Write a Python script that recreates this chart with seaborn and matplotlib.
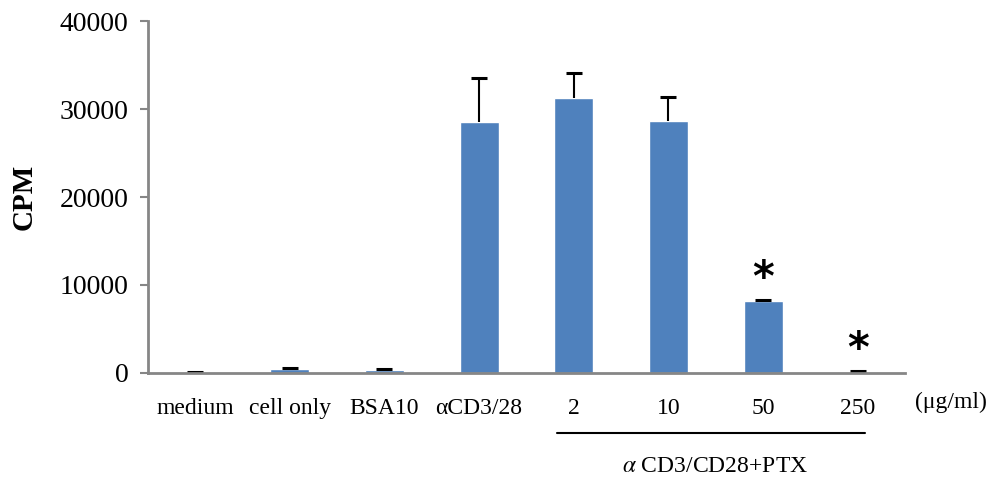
import matplotlib
matplotlib.use("Agg")
import matplotlib.pyplot as plt
import seaborn as sns
import numpy as np
import pandas as pd

categories = ["medium", "cell only", "BSA10", "\u03b1CD3/28", "2", "10", "50", "250"]
cpm = [60, 420, 300, 28500, 31300, 28600, 8150, 60]
cpm_err = [40, 180, 130, 5000, 2800, 2750, 200, 120]
significant = [False, False, False, False, False, False, True, True]
group_label = "CD3/CD28+PTX"
unit_label = "(\u03bcg/ml)"

sns.set_theme(style="white")
plt.rcParams["font.family"] = ["Liberation Serif", "DejaVu Serif"]
plt.rcParams["mathtext.fontset"] = "stix"
plt.rcParams["text.color"] = "black"
plt.rcParams["axes.labelcolor"] = "black"
plt.rcParams["xtick.labelcolor"] = "black"
plt.rcParams["ytick.labelcolor"] = "black"

df = pd.DataFrame({"group": categories, "CPM": cpm})

fig = plt.figure(figsize=(9.98, 4.8), dpi=100)
ax = fig.add_axes([0.148, 0.223, 0.759, 0.733])

sns.barplot(data=df, x="group", y="CPM", order=categories, color="#4F81BD",
            saturation=1, width=0.41, ax=ax, errorbar=None)

xpos = np.arange(len(categories))
eb = ax.errorbar(xpos, cpm, yerr=[np.zeros(len(cpm)), cpm_err], fmt="none",
                 ecolor="black", elinewidth=1.5, capsize=6, capthick=2.2)
# hide the lower caps (only upward error bars)
eb[1][0].set_visible(False)

for x, v, e, s in zip(xpos, cpm, cpm_err, significant):
    if s:
        ax.annotate("*", xy=(x, v + e), xytext=(0, 0), textcoords="offset points",
                    ha="center", va="bottom", fontsize=30, color="black",
                    fontweight="bold", family=["DejaVu Sans"])

ax.set_ylim(0, 40000)
ax.set_xlim(-0.5, len(categories) - 0.5)
ax.set_yticks([0, 10000, 20000, 30000, 40000])
ax.set_yticklabels(["0", "10000", "20000", "30000", "40000"], fontsize=20)
ax.set_xticks(xpos)
ax.set_xticklabels(categories, fontsize=17)
ax.set_xlabel("")
ax.set_ylabel("CPM", fontsize=21, fontweight="bold", labelpad=16)

for side in ["top", "right"]:
    ax.spines[side].set_visible(False)
for side in ["left", "bottom"]:
    ax.spines[side].set_color("#868686")
    ax.spines[side].set_linewidth(2)
ax.tick_params(axis="y", left=True, length=6, width=1.5, color="#868686", pad=8)
ax.tick_params(axis="x", bottom=False, pad=12)

# group annotation
trans = ax.get_xaxis_transform()
ax.plot([3.82, 7.08], [-0.17, -0.17], transform=trans, color="black", lw=1.5, clip_on=False)
ax.text(5.49, -0.265, r"$\alpha$ " + group_label, transform=trans, ha="center", va="center",
        fontsize=17)
ax.text(7.6, -0.085, unit_label, transform=trans, ha="left", va="center", fontsize=17)

fig.savefig("out.png", dpi=100)
